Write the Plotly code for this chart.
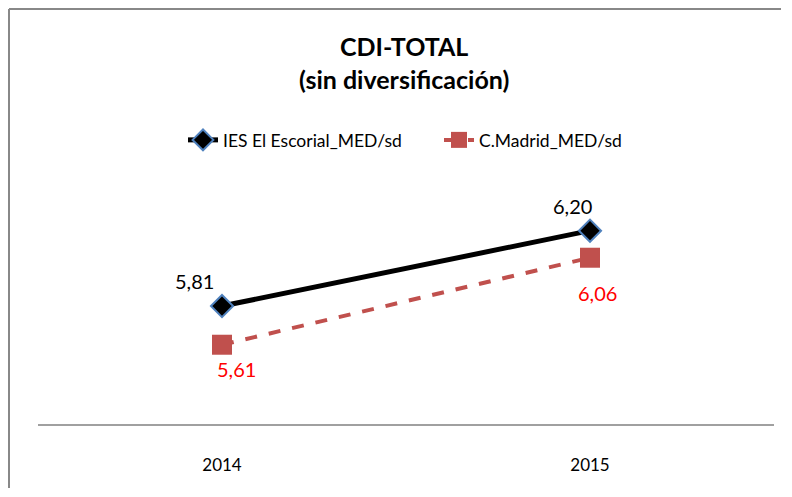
import plotly.graph_objects as go

years = ["2014", "2015"]
ies_values = [5.81, 6.20]
cm_values = [5.61, 6.06]
ies_labels = ["5,81", "6,20"]
cm_labels = ["5,61", "6,06"]

xpos = list(range(len(years)))
FONT = "Lato, 'Open Sans', Arial, sans-serif"

# page has an 8px body margin; plot area in page coords: x 38..774, y 192..424
W, H = 776, 481
L, T = 30, 184
PW, PH = 736, 232

fig = go.Figure()
fig.add_trace(go.Scatter(
    x=xpos, y=ies_values, mode="lines+markers", name="IES El Escorial_MED/sd",
    line=dict(color="black", width=5),
    marker=dict(symbol="diamond", size=17, color="black", line=dict(color="#4F81BD", width=2)),
))
fig.add_trace(go.Scatter(
    x=xpos, y=cm_values, mode="lines+markers", name="C.Madrid_MED/sd",
    line=dict(color="#C0504D", width=4, dash="dash"),
    marker=dict(symbol="square", size=20, color="#C0504D"),
))

ies_shift = [(-28, 25), (-18, 25)]
cm_shift = [(14, -24), (7, -35)]
for i in xpos:
    fig.add_annotation(x=i, y=ies_values[i], text=ies_labels[i], showarrow=False,
                       xshift=ies_shift[i][0], yshift=ies_shift[i][1],
                       font=dict(size=20, color="black", family=FONT))
    fig.add_annotation(x=i, y=cm_values[i], text=cm_labels[i], showarrow=False,
                       xshift=cm_shift[i][0], yshift=cm_shift[i][1],
                       font=dict(size=20, color="#FF0000", family=FONT))

fig.add_annotation(xref="paper", yref="paper", x=(404 - 38) / PW, y=(424 - 63) / PH,
                   xanchor="center", yanchor="middle",
                   text="<b>CDI-TOTAL<br>(sin diversificación)</b>", showarrow=False,
                   font=dict(size=25, color="black", family=FONT), align="center")

# chart frame: left and top edges (figure-pixel coords converted to paper units)
fx0 = (1 - L) / PW
fx1 = (W - L - 3) / PW
fy0 = -(H - T - PH - 1) / PH
fy1 = (T + PH - 1) / PH
frame = dict(color="#888888", width=2)
fig.add_shape(type="line", xref="paper", yref="paper", x0=fx0, x1=fx0, y0=fy0, y1=fy1, line=frame)
fig.add_shape(type="line", xref="paper", yref="paper", x0=fx0, x1=fx1, y0=fy1, y1=fy1, line=frame)

fig.update_layout(
    width=W, height=H,
    margin=dict(l=L, r=W - L - PW, t=T, b=H - T - PH),
    paper_bgcolor="white", plot_bgcolor="white",
    font=dict(family=FONT, color="black"),
    showlegend=True,
    legend=dict(orientation="h", x=(183 - 38) / PW, y=(424 - 140) / PH,
                xanchor="left", yanchor="middle",
                font=dict(size=17.5, family=FONT), entrywidth=211, bgcolor="rgba(0,0,0,0)"),
    xaxis=dict(range=[-0.5, len(years) - 0.5], tickvals=xpos, ticktext=years,
               showgrid=False, zeroline=False, showline=True, linecolor="#A0A0A0", linewidth=2,
               ticks="", tickfont=dict(size=17, family=FONT), ticklabelstandoff=25),
    yaxis=dict(range=[5.2, 6.4], visible=False, showgrid=False),
)
fig.write_html("out.html")
